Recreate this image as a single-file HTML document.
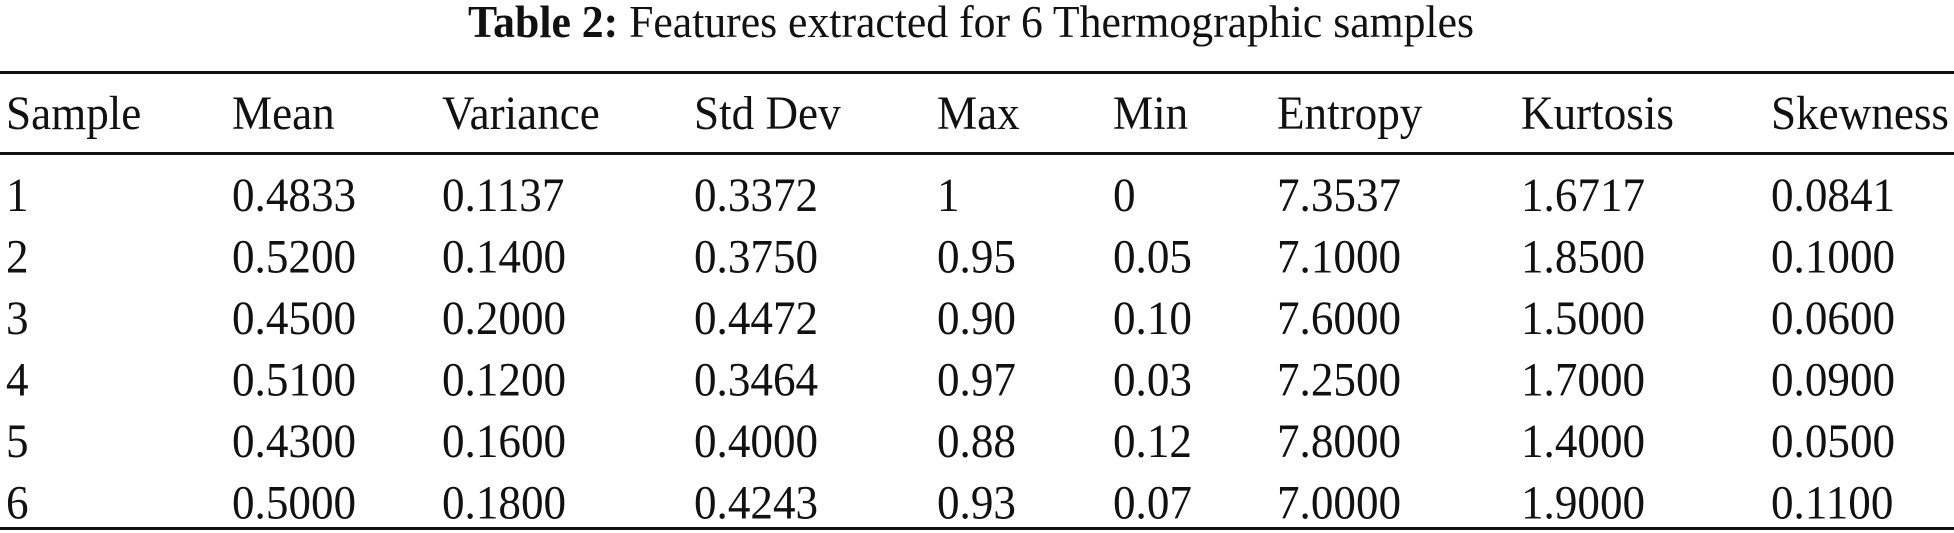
<!DOCTYPE html>
<html><head><meta charset="utf-8">
<style>
html,body{margin:0;padding:0;background:#fff;}
svg{display:block;}
text{font-family:"Liberation Serif",serif;fill:#111;}
</style></head>
<body>
<svg id="tbl" width="1954" height="533" viewBox="0 0 1954 533" xmlns="http://www.w3.org/2000/svg">
<text transform="translate(971,37) scale(0.95,1)" text-anchor="middle" font-size="46"><tspan font-weight="bold">Table 2:</tspan>  Features extracted for 6 Thermographic samples</text>
<rect x="0" y="71" width="1954" height="3" fill="#111"/>
<rect x="0" y="152" width="1954" height="3" fill="#111"/>
<rect x="0" y="527" width="1954" height="3" fill="#111"/>
<g id="cells"></g>
</svg>
<script>
const headers = ["Sample","Mean","Variance","Std Dev","Max","Min","Entropy","Kurtosis","Skewness"];
const rows = [
 ["1","0.4833","0.1137","0.3372","1","0","7.3537","1.6717","0.0841"],
 ["2","0.5200","0.1400","0.3750","0.95","0.05","7.1000","1.8500","0.1000"],
 ["3","0.4500","0.2000","0.4472","0.90","0.10","7.6000","1.5000","0.0600"],
 ["4","0.5100","0.1200","0.3464","0.97","0.03","7.2500","1.7000","0.0900"],
 ["5","0.4300","0.1600","0.4000","0.88","0.12","7.8000","1.4000","0.0500"],
 ["6","0.5000","0.1800","0.4243","0.93","0.07","7.0000","1.9000","0.1100"]
];
const colX = [6,232,442,694,937,1113,1277,1521,1771];
const ns = "http://www.w3.org/2000/svg";
const g = document.getElementById("cells");
headers.forEach((h,i)=>{
  const t = document.createElementNS(ns,"text");
  t.setAttribute("transform","translate("+colX[i]+",129) scale(0.94,1)");
  t.setAttribute("font-size","48");
  
  
  t.textContent = h; g.appendChild(t);
});
rows.forEach((r,ri)=>{
  r.forEach((v,ci)=>{
    const t = document.createElementNS(ns,"text");
    t.setAttribute("transform","translate("+colX[ci]+","+(211+ri*61.5)+") scale(0.94,1)");
    t.setAttribute("font-size","48");
    
    
    t.textContent = v; g.appendChild(t);
  });
});
</script>
</body></html>
